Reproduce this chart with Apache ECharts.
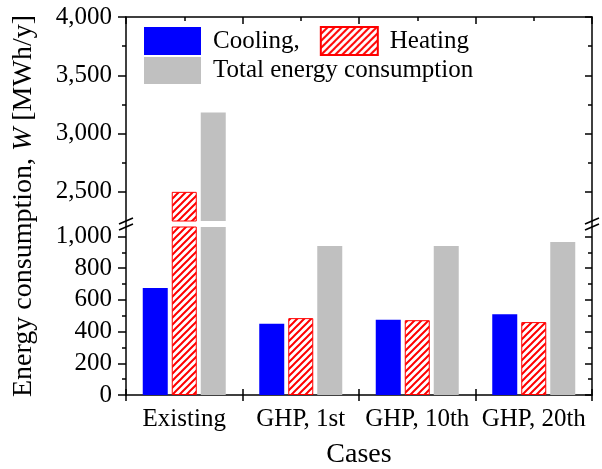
<!DOCTYPE html>
<html>
<head>
<meta charset="utf-8">
<script src="https://cdn.jsdelivr.net/npm/echarts@6/dist/echarts.min.js"></script>
<style>
  html, body { margin: 0; padding: 0; background: #fff; }
  #chart { width: 602px; height: 469px; }
</style>
</head>
<body>
<div id="chart"></div>
<script>
// Annual energy use per case (MWh/y)
const categories = ['Existing', 'GHP, 1st', 'GHP, 10th', 'GHP, 20th'];
const cooling = [675, 450, 475, 510];
const heating = [2500, 485, 472, 460];
const total = [3180, 940, 940, 965];

// Broken y axis: upper and lower ranges with their tick values
const upperRange = [2250, 4000];
const lowerRange = [0, 1060];
const upperMajor = [2500, 3000, 3500, 4000];
const upperMinor = [2750, 3250, 3750];
const lowerMajor = [0, 200, 400, 600, 800, 1000];
const lowerMinor = [100, 300, 500, 700, 900];

const FONT = '"Liberation Serif", "Times New Roman", serif';
const BLACK = '#000';

// Red diagonal hatch used for the heating bars
function hatchPattern() {
  const s = 7;
  const c = document.createElement('canvas');
  c.width = s; c.height = s;
  const g = c.getContext('2d');
  g.fillStyle = '#fff';
  g.fillRect(0, 0, s, s);
  g.strokeStyle = '#ff0000';
  g.lineWidth = 2;
  g.beginPath();
  g.moveTo(-1, s + 1); g.lineTo(s + 1, -1);
  g.moveTo(-1, 1); g.lineTo(1, -1);
  g.moveTo(s - 1, s + 1); g.lineTo(s + 1, s - 1);
  g.stroke();
  return { image: c, repeat: 'repeat' };
}
const hatch = hatchPattern();

const styles = {
  cooling: { color: '#0000ff' },
  heating: { color: hatch, borderColor: '#ff0000', borderWidth: 1 },
  total: { color: '#c0c0c0' }
};

const fmt = v => Number(v).toLocaleString('en-US');

function yAxisDef(grid, pos, range, ticks, len, inside, withLabel, withLine) {
  return {
    type: 'value', gridIndex: grid, position: pos,
    min: range[0], max: range[1],
    axisLine: { show: withLine, onZero: false, lineStyle: { color: BLACK, width: 1.5 } },
    axisTick: { show: true, inside: inside, length: len, customValues: ticks,
                lineStyle: { color: BLACK, width: 1.5 } },
    axisLabel: withLabel
      ? { show: true, customValues: ticks, formatter: fmt, margin: 14,
          color: BLACK, fontFamily: FONT, fontSize: 25 }
      : { show: false },
    splitLine: { show: false }
  };
}

function xAxisDef(grid, pos, opts) {
  return Object.assign({
    type: 'category', gridIndex: grid, position: pos, data: categories,
    boundaryGap: true,
    axisLine: { show: false, onZero: false, lineStyle: { color: BLACK, width: 1.5 } },
    axisTick: { show: false },
    axisLabel: { show: false },
    splitLine: { show: false }
  }, opts);
}

const tickStyle = { color: BLACK, width: 1.5 };

function barSeries(name, data, xi, yi, range) {
  return {
    name: name, type: 'bar', xAxisIndex: xi, yAxisIndex: yi,
    data: data.map(v => (v > range[0] ? v : '-')),
    barWidth: 25, barGap: '16%', clip: true,
    itemStyle: styles[name === 'Cooling' ? 'cooling' : name === 'Heating' ? 'heating' : 'total'],
    emphasis: { disabled: true }
  };
}

const chart = echarts.init(document.getElementById('chart'), null, { renderer: 'canvas' });

const legendText = { fontFamily: FONT, fontSize: 25, color: BLACK, padding: [0, 0, 0, 7] };

chart.setOption({
  animation: false,
  backgroundColor: '#fff',
  grid: [
    { left: 126, right: 10, top: 17, height: 204, outerBoundsMode: 'none' },
    { left: 126, right: 10, top: 227, bottom: 74, outerBoundsMode: 'none' }
  ],
  legend: [
    {
      data: ['Cooling', 'Heating'], left: 144, top: 26, padding: 0, orient: 'horizontal', icon: 'rect',
      itemWidth: 57, itemHeight: 28, itemGap: 20, selectedMode: false,
      formatter: n => (n === 'Cooling' ? 'Cooling,' : n),
      textStyle: legendText
    },
    {
      data: ['Total energy consumption'], left: 144, top: 57, padding: 0, icon: 'rect',
      itemWidth: 57, itemHeight: 27, selectedMode: false,
      textStyle: legendText
    }
  ],
  xAxis: [
    // top frame of the upper panel
    xAxisDef(0, 'top', { axisLine: { show: true, onZero: false, lineStyle: tickStyle },
      axisTick: { show: true, inside: true, length: 7, lineStyle: tickStyle } }),
    xAxisDef(0, 'top', { axisTick: { show: true, inside: true, length: 4,
      alignWithLabel: true, lineStyle: tickStyle } }),
    // bottom axis of the lower panel
    xAxisDef(1, 'bottom', {
      name: 'Cases', nameLocation: 'middle', nameGap: 46,
      nameTextStyle: { fontFamily: FONT, fontSize: 28, color: BLACK },
      axisLine: { show: true, onZero: false, lineStyle: tickStyle },
      axisTick: { show: true, inside: false, length: 6, lineStyle: tickStyle },
      axisLabel: { show: true, margin: 12, interval: 0, color: BLACK, fontFamily: FONT, fontSize: 25 }
    }),
    xAxisDef(1, 'bottom', { axisTick: { show: true, inside: true, length: 6, lineStyle: tickStyle } })
  ],
  yAxis: [
    yAxisDef(0, 'left', upperRange, upperMajor, 8, false, true, true),
    yAxisDef(0, 'left', upperRange, upperMinor, 4, false, false, false),
    yAxisDef(0, 'right', upperRange, upperMajor, 7, true, false, true),
    yAxisDef(0, 'right', upperRange, upperMinor, 4, true, false, false),
    yAxisDef(1, 'left', lowerRange, lowerMajor, 8, false, true, true),
    yAxisDef(1, 'left', lowerRange, lowerMinor, 4, false, false, false),
    yAxisDef(1, 'right', lowerRange, lowerMajor, 7, true, false, true),
    yAxisDef(1, 'right', lowerRange, lowerMinor, 4, true, false, false)
  ],
  series: [
    barSeries('Cooling', cooling, 0, 0, upperRange),
    barSeries('Heating', heating, 0, 0, upperRange),
    barSeries('Total energy consumption', total, 0, 0, upperRange),
    barSeries('Cooling', cooling, 2, 4, lowerRange),
    barSeries('Heating', heating, 2, 4, lowerRange),
    barSeries('Total energy consumption', total, 2, 4, lowerRange)
  ]
});

// Axis break marks and the rotated y-axis title, placed from the grid geometry
const upperRect = chart.getModel().getComponent('grid', 0).coordinateSystem.getRect();
const lowerRect = chart.getModel().getComponent('grid', 1).coordinateSystem.getRect();
const yBreakTop = upperRect.y + upperRect.height;
const yBreakBottom = lowerRect.y;
const breakEls = [];
[upperRect.x, upperRect.x + upperRect.width].forEach(x => {
  breakEls.push({ type: 'line', shape: { x1: x, y1: yBreakTop, x2: x, y2: yBreakBottom },
    style: { stroke: BLACK, lineWidth: 1.5 }, silent: true });
  [yBreakTop, yBreakBottom].forEach(y => {
    breakEls.push({ type: 'line', shape: { x1: x - 7, y1: y + 3, x2: x + 7, y2: y - 3 },
      style: { stroke: BLACK, lineWidth: 1.5 }, silent: true });
  });
});
const titleY = (upperRect.y + lowerRect.y + lowerRect.height) / 2;

chart.setOption({
  graphic: breakEls.concat([{
    type: 'text', x: 24, y: titleY, rotation: Math.PI / 2, silent: true,
    style: {
      text: '{a|Energy consumption, }{b|W}{a| [MWh/y]}',
      align: 'center', verticalAlign: 'middle',
      rich: {
        a: { fontFamily: FONT, fontSize: 28, fill: BLACK },
        b: { fontFamily: FONT, fontSize: 28, fontStyle: 'italic', fill: BLACK }
      }
    }
  }])
});
</script>
</body>
</html>
